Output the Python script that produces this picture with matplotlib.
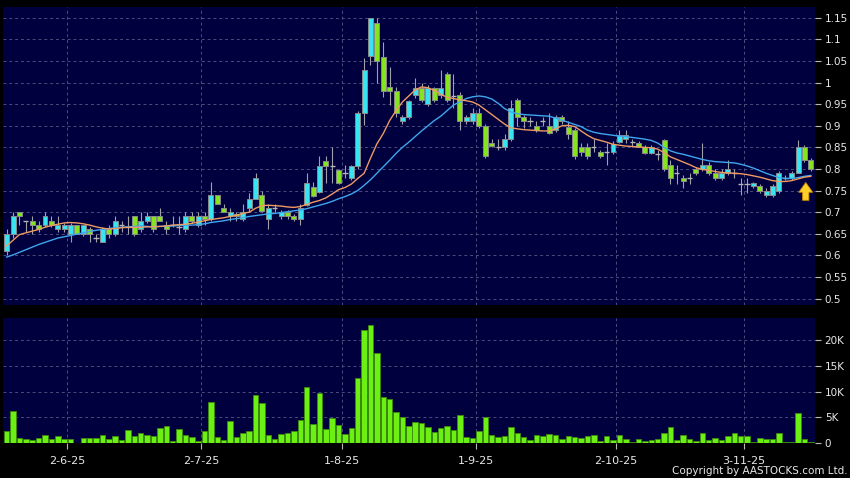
import numpy as np
import matplotlib
matplotlib.use("Agg")
import matplotlib.pyplot as plt
from matplotlib.ticker import FuncFormatter


###
# Data (daily candles, volume in shares)
###
open_ = [0.61, 0.65, 0.70, 0.68, 0.68, 0.67, 0.67, 0.68, 0.66, 0.66,
         0.65, 0.67, 0.65, 0.66, 0.64, 0.63, 0.66, 0.65, 0.67, 0.665,
         0.69, 0.66, 0.68, 0.69, 0.69, 0.67, 0.67, 0.665, 0.66, 0.69,
         0.67, 0.69, 0.685, 0.74, 0.71, 0.69, 0.695, 0.685, 0.71, 0.73,
         0.74, 0.685, 0.71, 0.69, 0.70, 0.69, 0.685, 0.717, 0.759, 0.747,
         0.819, 0.808, 0.797, 0.79, 0.778, 0.808, 0.929, 1.061, 1.139, 1.06,
         0.99, 0.98, 0.91, 0.92, 0.971, 0.988, 0.95, 0.988, 0.971, 1.019,
         0.97, 0.971, 0.911, 0.911, 0.929, 0.90, 0.86, 0.85, 0.85, 0.869,
         0.96, 0.92, 0.91, 0.90, 0.911, 0.90, 0.89, 0.92, 0.898, 0.89,
         0.85, 0.85, 0.85, 0.84, 0.84, 0.84, 0.862, 0.869, 0.862, 0.86,
         0.85, 0.838, 0.835, 0.868, 0.809, 0.79, 0.778, 0.78, 0.80, 0.80,
         0.809, 0.79, 0.78, 0.79, 0.79, 0.765, 0.765, 0.761, 0.761, 0.74,
         0.74, 0.75, 0.778, 0.778, 0.79, 0.85, 0.82]
high = [0.66, 0.70, 0.70, 0.68, 0.69, 0.68, 0.70, 0.69, 0.69, 0.675,
        0.675, 0.67, 0.67, 0.665, 0.65, 0.665, 0.67, 0.69, 0.68, 0.69,
        0.69, 0.70, 0.70, 0.69, 0.71, 0.68, 0.69, 0.69, 0.70, 0.70,
        0.70, 0.70, 0.77, 0.74, 0.72, 0.71, 0.70, 0.72, 0.745, 0.79,
        0.75, 0.72, 0.72, 0.705, 0.705, 0.695, 0.72, 0.79, 0.77, 0.83,
        0.83, 0.85, 0.80, 0.81, 0.81, 0.935, 1.056, 1.15, 1.149, 1.095,
        1.037, 0.99, 0.925, 0.96, 1.01, 0.998, 0.995, 0.99, 1.03, 1.025,
        1.02, 0.979, 0.925, 0.94, 0.94, 0.905, 0.87, 0.87, 0.88, 0.96,
        0.965, 0.925, 0.92, 0.91, 0.92, 0.93, 0.925, 0.925, 0.91, 0.895,
        0.86, 0.86, 0.87, 0.845, 0.86, 0.865, 0.89, 0.89, 0.87, 0.865,
        0.855, 0.855, 0.845, 0.87, 0.82, 0.81, 0.785, 0.79, 0.805, 0.86,
        0.815, 0.80, 0.80, 0.82, 0.80, 0.78, 0.78, 0.77, 0.765, 0.755,
        0.765, 0.795, 0.785, 0.795, 0.868, 0.855, 0.825]
low = [0.60, 0.64, 0.67, 0.655, 0.65, 0.655, 0.665, 0.665, 0.655, 0.655,
       0.63, 0.65, 0.645, 0.63, 0.63, 0.63, 0.64, 0.645, 0.655, 0.65,
       0.645, 0.655, 0.675, 0.655, 0.68, 0.65, 0.665, 0.65, 0.655, 0.675,
       0.665, 0.67, 0.68, 0.72, 0.70, 0.68, 0.68, 0.68, 0.70, 0.73,
       0.70, 0.66, 0.70, 0.685, 0.685, 0.68, 0.67, 0.715, 0.735, 0.745,
       0.767, 0.767, 0.765, 0.78, 0.775, 0.80, 0.902, 1.04, 1.0, 0.967,
       0.948, 0.92, 0.905, 0.915, 0.965, 0.955, 0.945, 0.955, 0.965, 0.955,
       0.94, 0.89, 0.905, 0.905, 0.895, 0.825, 0.85, 0.845, 0.845, 0.865,
       0.90, 0.895, 0.90, 0.885, 0.90, 0.88, 0.885, 0.905, 0.87, 0.823,
       0.83, 0.823, 0.84, 0.825, 0.81, 0.835, 0.86, 0.86, 0.85, 0.85,
       0.835, 0.835, 0.82, 0.795, 0.765, 0.765, 0.755, 0.765, 0.785, 0.795,
       0.785, 0.775, 0.775, 0.785, 0.78, 0.74, 0.745, 0.755, 0.745, 0.735,
       0.735, 0.745, 0.775, 0.775, 0.79, 0.815, 0.795]
close = [0.65, 0.69, 0.69, 0.68, 0.67, 0.66, 0.69, 0.67, 0.67, 0.67,
         0.67, 0.65, 0.67, 0.65, 0.64, 0.66, 0.65, 0.68, 0.67, 0.665,
         0.65, 0.68, 0.69, 0.66, 0.68, 0.66, 0.67, 0.665, 0.69, 0.68,
         0.69, 0.685, 0.74, 0.72, 0.70, 0.70, 0.69, 0.70, 0.73, 0.778,
         0.703, 0.71, 0.71, 0.70, 0.69, 0.683, 0.71, 0.768, 0.738, 0.808,
         0.808, 0.808, 0.768, 0.79, 0.808, 0.929, 1.03, 1.149, 1.05, 0.98,
         0.98, 0.929, 0.92, 0.958, 0.988, 0.96, 0.988, 0.96, 0.988, 0.96,
         0.97, 0.911, 0.92, 0.929, 0.90, 0.83, 0.852, 0.85, 0.869, 0.94,
         0.921, 0.91, 0.91, 0.89, 0.911, 0.883, 0.92, 0.91, 0.881, 0.83,
         0.84, 0.83, 0.85, 0.83, 0.84, 0.858, 0.878, 0.878, 0.862, 0.85,
         0.838, 0.85, 0.835, 0.80, 0.778, 0.79, 0.771, 0.78, 0.79, 0.809,
         0.79, 0.78, 0.79, 0.80, 0.79, 0.765, 0.765, 0.768, 0.75, 0.75,
         0.761, 0.79, 0.778, 0.79, 0.85, 0.82, 0.80]
volume = [2300, 6200, 1000, 850, 650, 900, 1600, 850, 1400, 700,
          700, 50, 1000, 900, 1000, 1500, 700, 1350, 650, 2500,
          1300, 1900, 1550, 1300, 3000, 3400, 300, 2700, 1550, 1150,
          450, 2300, 8000, 1200, 600, 4200, 1100, 1900, 2400, 9250,
          7750, 1600, 700, 1800, 1900, 2400, 4500, 10900, 3700, 9800,
          2800, 4900, 3500, 1800, 2900, 12600, 22000, 22900, 17400, 9000,
          8650, 6100, 5100, 3350, 4000, 3850, 3200, 2050, 2900, 3300,
          2450, 5500, 1100, 950, 2250, 5000, 1600, 1150, 1400, 3200,
          1900, 1100, 500, 1550, 1400, 1800, 1600, 750, 1400, 1100,
          950, 1350, 1500, 450, 1300, 600, 1600, 850, 200, 700,
          450, 650, 850, 1900, 3200, 600, 1550, 800, 400, 1850,
          500, 950, 500, 1300, 2000, 1400, 1300, 200, 900, 750,
          850, 2000, 250, 250, 5800, 850, 200]
# moving averages as drawn on the chart
ma_short = [0.622, 0.635, 0.648, 0.652, 0.656, 0.66, 0.665, 0.669, 0.672, 0.675,
            0.676, 0.675, 0.673, 0.67, 0.666, 0.663, 0.661, 0.662, 0.664, 0.665,
            0.665, 0.665, 0.666, 0.666, 0.667, 0.668, 0.67, 0.671, 0.672, 0.674,
            0.677, 0.68, 0.683, 0.685, 0.687, 0.69, 0.693, 0.697, 0.70, 0.709,
            0.715, 0.716, 0.715, 0.714, 0.712, 0.711, 0.713, 0.718, 0.723, 0.727,
            0.733, 0.742, 0.752, 0.757, 0.765, 0.778, 0.79, 0.825, 0.858, 0.882,
            0.912, 0.935, 0.955, 0.969, 0.983, 0.99, 0.988, 0.982, 0.973, 0.966,
            0.963, 0.96, 0.958, 0.955, 0.948, 0.937, 0.926, 0.915, 0.904, 0.895,
            0.893, 0.891, 0.89, 0.889, 0.888, 0.888, 0.893, 0.9, 0.901, 0.898,
            0.888, 0.878, 0.87, 0.866, 0.862, 0.857, 0.855, 0.853, 0.852, 0.851,
            0.85, 0.849, 0.846, 0.838, 0.828, 0.822, 0.816, 0.81, 0.803, 0.799,
            0.797, 0.794, 0.792, 0.791, 0.79, 0.789, 0.787, 0.784, 0.781, 0.777,
            0.773, 0.771, 0.771, 0.773, 0.777, 0.781, 0.783]
ma_long = [0.596, 0.601, 0.607, 0.613, 0.619, 0.625, 0.63, 0.635, 0.64, 0.643,
           0.646, 0.649, 0.652, 0.655, 0.658, 0.66, 0.662, 0.664, 0.665, 0.666,
           0.667, 0.668, 0.667, 0.666, 0.667, 0.667, 0.668, 0.669, 0.67, 0.67,
           0.671, 0.673, 0.676, 0.678, 0.68, 0.683, 0.685, 0.687, 0.69, 0.692,
           0.694, 0.696, 0.697, 0.699, 0.701, 0.703, 0.705, 0.708, 0.712, 0.716,
           0.72, 0.725, 0.731, 0.736, 0.742, 0.75, 0.762, 0.775, 0.79, 0.805,
           0.82, 0.836, 0.85, 0.862, 0.875, 0.888, 0.9, 0.912, 0.922, 0.935,
           0.948, 0.955, 0.963, 0.967, 0.969, 0.967, 0.962, 0.952, 0.94, 0.932,
           0.928, 0.926, 0.925, 0.924, 0.923, 0.922, 0.918, 0.913, 0.908, 0.903,
           0.898, 0.89, 0.885, 0.882, 0.88, 0.878, 0.876, 0.875, 0.873, 0.871,
           0.869, 0.866, 0.86, 0.85, 0.842, 0.837, 0.834, 0.83, 0.826, 0.822,
           0.819, 0.817, 0.816, 0.815, 0.814, 0.811, 0.807, 0.802, 0.796, 0.79,
           0.785, 0.78, 0.778, 0.778, 0.78, 0.783, 0.785]

# first trading day of each month (candle index) and its label
month_start = [10, 31, 53, 74, 96, 116]
month_labels = ["2-6-25", "2-7-25", "1-8-25", "1-9-25", "2-10-25", "3-11-25"]

price_ticks = [0.5, 0.55, 0.6, 0.65, 0.7, 0.75, 0.8, 0.85, 0.9, 0.95, 1.0, 1.05, 1.1, 1.15]
vol_ticks = [0, 5000, 10000, 15000, 20000]

BG = "#00003e"
GRID = "#4c4c7c"
UP = "#38e4f2"
DOWN = "#86e41e"
EDGE = "#8a8a8a"
WICK = "#a0a0a8"
TXT = "#e8e8e8"

o = np.array(open_)
h = np.array(high)
l = np.array(low)
c = np.array(close)
x = np.arange(len(c))
grid_x = np.array(month_start) - 0.5

fig = plt.figure(figsize=(8.5, 4.78), dpi=100, facecolor="black")
ax = fig.add_axes([3 / 850, 1 - 305 / 478, 812 / 850, 298 / 478])
axv = fig.add_axes([3 / 850, 1 - 443 / 478, 812 / 850, 125 / 478])

for a in (ax, axv):
    a.set_facecolor(BG)
    for s in a.spines.values():
        s.set_visible(False)
    a.set_xlim(-0.58, len(c) - 0.35)
    a.set_xticks(grid_x)
    a.grid(True, color=GRID, linestyle=(0, (3, 3)), linewidth=0.7)
    a.set_axisbelow(True)
    a.yaxis.tick_right()
    a.tick_params(axis="y", colors="#b8b8b8", labelcolor=TXT, direction="out",
                  length=4, width=0.8, pad=3, labelsize=7.5)

# price panel
ax.set_ylim(0.485, 1.175)
ax.set_yticks(price_ticks)
ax.yaxis.set_major_formatter(FuncFormatter(lambda v, p: f"{v:.2f}".rstrip("0").rstrip(".")))
ax.tick_params(axis="x", length=0, labelbottom=False)

ax.vlines(x, l, h, color=WICK, linewidth=0.8, zorder=2)
body_lo = np.minimum(o, c)
body_h = np.abs(c - o)
flat = body_h < 0.003
up = (c > o) & ~flat
down = (c < o) & ~flat
ax.bar(x[up], body_h[up], bottom=body_lo[up], width=0.78, color=UP,
       edgecolor=EDGE, linewidth=0.7, zorder=3)
ax.bar(x[down], body_h[down], bottom=body_lo[down], width=0.78, color=DOWN,
       edgecolor=EDGE, linewidth=0.7, zorder=3)
ax.hlines(c[flat], x[flat] - 0.4, x[flat] + 0.4, color="#b4b4b4", linewidth=1.0, zorder=3)

ax.plot(x, ma_long, color="#3fa6ee", linewidth=1.0, zorder=4)
ax.plot(x, ma_short, color="#ee9a62", linewidth=1.0, zorder=4)

# yellow marker arrow under the latest candle
ax.annotate("", xy=(x[-1] - 0.8, 0.775), xytext=(x[-1] - 0.8, 0.721),
            arrowprops=dict(arrowstyle="simple,head_width=1.0,head_length=0.7,tail_width=0.45",
                            mutation_scale=10, fc="#fbd02a", ec="#d58a00", lw=0.6),
            zorder=5)

# volume panel
axv.bar(x, volume, width=0.86, color="#6cf014", edgecolor="#3c8c0c", linewidth=0.6, zorder=3)
axv.set_ylim(0, 24300)
axv.set_yticks(vol_ticks)
axv.yaxis.set_major_formatter(FuncFormatter(lambda v, p: "0" if v == 0 else f"{v / 1000:.0f}K"))
axv.set_xticklabels(month_labels)
axv.tick_params(axis="x", colors="#b8b8b8", labelcolor=TXT, direction="out",
                length=4, width=0.8, pad=5, labelsize=8)

fig.text(848 / 850, 1 - 471 / 478, "Copyright by AASTOCKS.com Ltd.", color=TXT,
         fontsize=7.5, ha="right", va="center")

fig.savefig("out.png", dpi=100, facecolor="black")
